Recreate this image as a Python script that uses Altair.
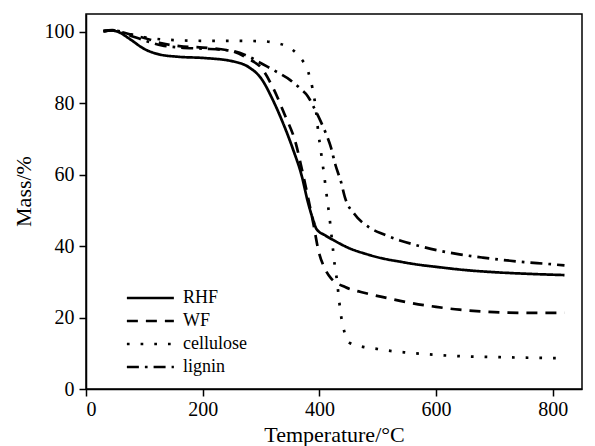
import altair as alt
import pandas as pd

series = ["RHF", "WF", "cellulose", "lignin"]

rhf_t = [30, 45, 55, 75, 100, 125, 160, 200, 250, 280, 300, 320, 335, 355, 370, 380, 390, 395,
         410, 425, 450, 480, 510, 540, 570, 600, 650, 700, 750, 800, 820]
rhf_m = [100.2, 100.4, 100.0, 98.0, 95.2, 93.7, 93.0, 92.7, 91.8, 90.0, 87.0, 81.0, 75.5, 67.0,
         59.5, 52.5, 47.0, 44.8, 43.0, 41.6, 39.5, 37.8, 36.5, 35.6, 34.8, 34.2, 33.3, 32.7, 32.3,
         32.0, 31.9]

wf_t = [30, 45, 55, 75, 100, 130, 160, 200, 250, 280, 300, 320, 340, 360, 370, 380, 390, 398,
        410, 420, 445, 480, 515, 550, 600, 640, 680, 720, 780, 820]
wf_m = [100.2, 100.5, 100.2, 99.3, 98.3, 96.8, 96.0, 95.6, 94.6, 92.3, 90.0, 84.5, 77.0, 68.5,
        61.5, 54.0, 46.0, 39.0, 33.5, 31.0, 28.5, 26.8, 25.5, 24.3, 23.0, 22.2, 21.7, 21.4, 21.3,
        21.3]

cel_t = [30, 50, 80, 100, 150, 200, 250, 300, 322, 343, 366, 381, 388, 393, 398, 403, 408, 413,
         417, 420, 423, 426, 430, 433, 436, 441, 451, 475, 500, 525, 550, 640, 710, 820]
cel_m = [100.2, 100.3, 99.2, 98.5, 97.7, 97.5, 97.5, 97.4, 97.0, 96.0, 93.0, 88.7, 84.3, 79.5,
         72.0, 66.0, 60.0, 53.5, 48.5, 44.0, 39.5, 35.0, 30.5, 26.0, 21.7, 17.2, 13.0, 11.8, 11.2,
         10.6, 10.2, 9.2, 8.9, 8.6]

lig_t = [30, 45, 55, 75, 100, 130, 160, 200, 250, 280, 300, 330, 350, 368, 380, 390, 402, 410,
         420, 427, 437, 444, 460, 484, 510, 538, 570, 603, 640, 680, 740, 800, 820]
lig_m = [100.2, 100.4, 100.0, 99.0, 97.6, 96.2, 95.6, 95.3, 94.7, 93.0, 91.2, 88.5, 86.5, 84.0,
         82.0, 79.0, 75.0, 72.0, 67.5, 63.0, 58.0, 53.5, 49.0, 45.4, 43.3, 41.6, 40.1, 38.8, 37.7,
         36.8, 35.7, 34.9, 34.6]

x_ticks = [0, 200, 400, 600, 800]
y_ticks = [0, 20, 40, 60, 80, 100]

rows = []
for name, ts, ms in [("RHF", rhf_t, rhf_m), ("WF", wf_t, wf_m),
                     ("cellulose", cel_t, cel_m), ("lignin", lig_t, lig_m)]:
    for i, (t, m) in enumerate(zip(ts, ms)):
        rows.append({"sample": name, "T": t, "M": m, "i": i})
df = pd.DataFrame(rows)

FONT = "Liberation Serif"

chart = alt.Chart(df).mark_line(
    color="black", strokeWidth=2.7, interpolate="monotone"
).encode(
    x=alt.X("T:Q", scale=alt.Scale(domain=[0, 850], nice=False, zero=False),
            axis=alt.Axis(values=x_ticks, title="Temperature/°C", grid=False,
                          tickSize=7, labelPadding=3, titleY=52,
                          labelFont=FONT, titleFont=FONT,
                          titleBaseline="alphabetic")),
    y=alt.Y("M:Q", scale=alt.Scale(domain=[0, 105], nice=False),
            axis=alt.Axis(values=y_ticks, title="Mass/%", grid=False,
                          tickSize=7, labelPadding=5, titleX=-56, titleY=177,
                          labelFont=FONT, titleFont=FONT,
                          titleBaseline="alphabetic")),
    strokeDash=alt.StrokeDash(
        "sample:N",
        scale=alt.Scale(domain=series,
                        range=[[1, 0], [11, 8], [2.7, 11], [12, 6, 2.7, 6]]),
        legend=alt.Legend(title=None, orient="none", legendX=73, legendY=275,
                          symbolType="M-7,0H1", symbolSize=138,
                          symbolStrokeWidth=2.7, symbolStrokeColor="black",
                          labelFont=FONT, labelFontSize=18, labelColor="black",
                          labelOffset=6, rowPadding=5)),
    order="i:Q",
).properties(
    width=496, height=375,
    autosize=alt.AutoSizeParams(type="none"),
    padding={"left": 78, "top": 6, "right": 5, "bottom": 58},
).configure(
    font=FONT
).configure_view(
    stroke="black", strokeWidth=1.5
).configure_axis(
    domainColor="black", domainWidth=1.5, tickColor="black", tickWidth=1.5,
    labelFont=FONT, labelFontSize=20, labelColor="black",
    titleFont=FONT, titleFontSize=22, titleColor="black", titleFontWeight="normal",
).configure_legend(
    labelFont=FONT
)

chart.save("out.html", embed_options={"renderer": "svg", "actions": False})
